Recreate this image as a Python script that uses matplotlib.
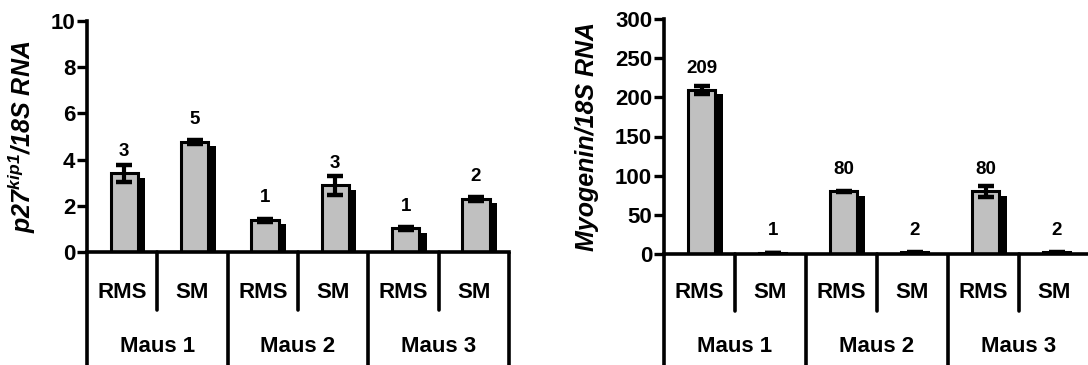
import matplotlib
matplotlib.use("Agg")
import matplotlib.pyplot as plt
from matplotlib import patheffects as pe
from matplotlib import transforms as mtransforms

plt.rcParams['font.family'] = ['Liberation Sans', 'DejaVu Sans']
plt.rcParams['font.weight'] = 'bold'
plt.rcParams['mathtext.default'] = 'regular'

# ---- data ----
samples = ["RMS", "SM", "RMS", "SM", "RMS", "SM"]
groups = ["Maus 1", "Maus 2", "Maus 3"]

p27_values = [3.4, 4.77, 1.38, 2.88, 1.02, 2.3]
p27_errors = [0.38, 0.08, 0.07, 0.43, 0.05, 0.1]
p27_labels = ["3", "5", "1", "3", "1", "2"]

myog_values = [209, 1, 80, 2, 80, 2]
myog_errors = [5, 0.3, 1, 0.5, 7, 0.5]
myog_labels = ["209", "1", "80", "2", "80", "2"]

W, H = 1088, 365
fig = plt.figure(figsize=(W / 100, H / 100), dpi=100)


def panel(rect, values, errors, labels, ylim, yticks, ylabel, ylabel_x, sub_bottom_px):
    ax = fig.add_axes(rect)
    x = list(range(len(values)))
    xb = [i + 0.03 for i in x]
    bars = ax.bar(xb, values, width=0.39, color='#c0c0c0', edgecolor='black',
                  linewidth=2.2, zorder=2)
    for b in bars:
        b.set_path_effects([pe.SimplePatchShadow(offset=(5.2, -3), shadow_rgbFace='black', alpha=1.0),
                            pe.Normal()])
    ax.errorbar(xb, values, yerr=errors, fmt='none', ecolor='black', elinewidth=3.0,
                capsize=5.5, capthick=3.2, zorder=3)
    for xi, v, lab in zip(xb, values, labels):
        ax.annotate(lab, (xi, v), xytext=(0, 16), textcoords='offset points',
                    ha='center', va='center', fontsize=13.5, fontweight='bold')
    ax.set_xlim(-0.5, len(values) - 0.5)
    ax.set_ylim(*ylim)
    ax.set_yticks(yticks)
    ax.set_yticklabels([str(t) for t in yticks], fontsize=16, fontweight='bold')
    ax.tick_params(axis='y', length=7, width=2.4, pad=1.5)
    ax.set_xticks([])
    for s in ('top', 'right'):
        ax.spines[s].set_visible(False)
    for s in ('left', 'bottom'):
        ax.spines[s].set_linewidth(2.6)
    ax.spines['bottom'].set_capstyle('projecting')
    ax.set_ylabel(ylabel, fontsize=18, fontweight='bold', style='italic')
    ax.yaxis.set_label_coords(ylabel_x, rect[1] + rect[3] / 2, transform=fig.transFigure)

    trans = mtransforms.blended_transform_factory(ax.transData, fig.transFigure)
    y0 = rect[1]
    # group separators
    for gx in [-0.5, 1.5, 3.5, 5.5]:
        ax.plot([gx, gx], [y0, 0], color='black', lw=2.6, transform=trans,
                clip_on=False, solid_capstyle='butt')
    # sub separators
    for sx in [0.5, 2.5, 4.5]:
        ax.plot([sx, sx], [y0, 1 - sub_bottom_px / H], color='black', lw=2.6,
                transform=trans, clip_on=False, solid_capstyle='round')
    for xi, s in zip(x, samples):
        ax.text(xi, 1 - 292 / H, s, transform=trans, ha='center', va='center',
                fontsize=16, fontweight='bold')
    for gi, g in enumerate(groups):
        ax.text(2 * gi + 0.5, 1 - 347 / H, g, transform=trans, ha='center', va='center',
                fontsize=16, fontweight='bold')
    return ax


panel([87 / W, 1 - 252 / H, (509 - 87) / W, (252 - 21) / H],
      p27_values, p27_errors, p27_labels, (0, 10), [0, 2, 4, 6, 8, 10],
      r'$p27^{kip1}$/18S RNA', 38 / W, 310)

panel([664 / W, 1 - 254 / H, (1090 - 664) / W, (254 - 19) / H],
      myog_values, myog_errors, myog_labels, (0, 300), [0, 50, 100, 150, 200, 250, 300],
      'Myogenin/18S RNA', 599 / W, 311)

fig.savefig('out.png', dpi=100)
